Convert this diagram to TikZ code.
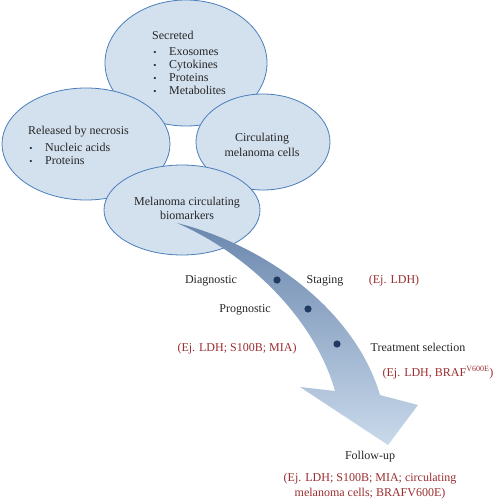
\documentclass[tikz,border=0pt]{standalone}
\usepackage{fontspec}
\setmainfont{Liberation Serif}
\usetikzlibrary{shapes.geometric}
\definecolor{bubblefill}{HTML}{D3E0EE}
\definecolor{bubbleline}{HTML}{4A7EBB}
\definecolor{exred}{HTML}{9B2D30}
\definecolor{dotblue}{HTML}{1F3A63}
\definecolor{arrowtop}{HTML}{6A87AD}
\definecolor{arrowbot}{HTML}{C9D9EB}
\begin{document}
\begin{tikzpicture}[x=1pt,y=-1pt,
    bubble/.style={ellipse,draw=bubbleline,fill=bubblefill,line width=0.8pt,inner sep=0pt},
    txt/.style={inner sep=0pt,text=black!85,font=\fontsize{12}{13}\selectfont},
    extxt/.style={txt,text=exred},
    bul/.style={inner sep=0pt,text=black!85,font=\fontsize{9}{9}\selectfont}]
        \useasboundingbox (0,0) rectangle (494,500);
        %% Bubbles
        \node[bubble,minimum width=162pt,minimum height=126pt] (secreted) at (186,63) {};
        \node[bubble,minimum width=168pt,minimum height=112pt] (necrosis) at (86,144) {};
        \node[bubble,minimum width=134pt,minimum height=96pt] (cells) at (263,142) {};
        \node[bubble,minimum width=156pt,minimum height=90pt] (biomarkers) at (182,210) {};
        %% Secreted
        \node[txt,anchor=base west] (secrtitle) at (152,40) {Secreted};
        \foreach \t [count=\i] in {Exosomes,Cytokines,Proteins,Metabolites} {
            \node[bul,anchor=base] (secrbul\i) at (155,43+13*\i) {\textbullet};
            \node[txt,anchor=base west] (secr\i) at (169,43+13*\i) {\t};
        }
        %% Necrosis
        \node[txt,anchor=base west] (necrtitle) at (28,134) {Released by necrosis};
        \foreach \t [count=\i] in {Nucleic acids,Proteins} {
            \node[bul,anchor=base] (necrbul\i) at (31,138+13*\i) {\textbullet};
            \node[txt,anchor=base west] (necr\i) at (45,138+13*\i) {\t};
        }
        %% Cells and biomarkers
        \node[txt,anchor=base] (cells1) at (262,141) {Circulating};
        \node[txt,anchor=base] (cells2) at (262,156) {melanoma cells};
        \node[txt,anchor=base] (bio1) at (187,205) {Melanoma circulating};
        \node[txt,anchor=base] (bio2) at (187,219) {biomarkers};
        %% Arrow
        \shade[top color=arrowtop,bottom color=arrowbot]
            (177,223) .. controls (250,255) and (315,320) .. (335,391)
            -- (300,387) -- (388,445) -- (418,405) -- (380,395)
            .. controls (355,310) and (265,245) .. (177,223) -- cycle;
        \fill[dotblue] (277,280) circle (3.6pt);
        \fill[dotblue] (308,309) circle (3.6pt);
        \fill[dotblue] (337,344) circle (3.6pt);
        %% Uses
        \node[txt,anchor=base] (diag) at (211,283) {Diagnostic};
        \node[txt,anchor=base] (stag) at (325,283) {Staging};
        \node[extxt,anchor=base] (stagex) at (394,283) {(Ej. LDH)};
        \node[txt,anchor=base] (prog) at (245,312) {Prognostic};
        \node[extxt,anchor=base] (progex) at (237,351) {(Ej. LDH; S100B; MIA)};
        \node[txt,anchor=base] (treat) at (418,351) {Treatment selection};
        \node[extxt,anchor=base] (treatex) at (438,376) {(Ej. LDH, BRAF\textsuperscript{V600E})};
        \node[txt,anchor=base] (follow) at (370,459) {Follow-up};
        \node[extxt,anchor=base] (followex1) at (370,481) {(Ej. LDH; S100B; MIA; circulating};
        \node[extxt,anchor=base] (followex2) at (370,496) {melanoma cells; BRAFV600E)};
    \end{tikzpicture}
\end{document}
